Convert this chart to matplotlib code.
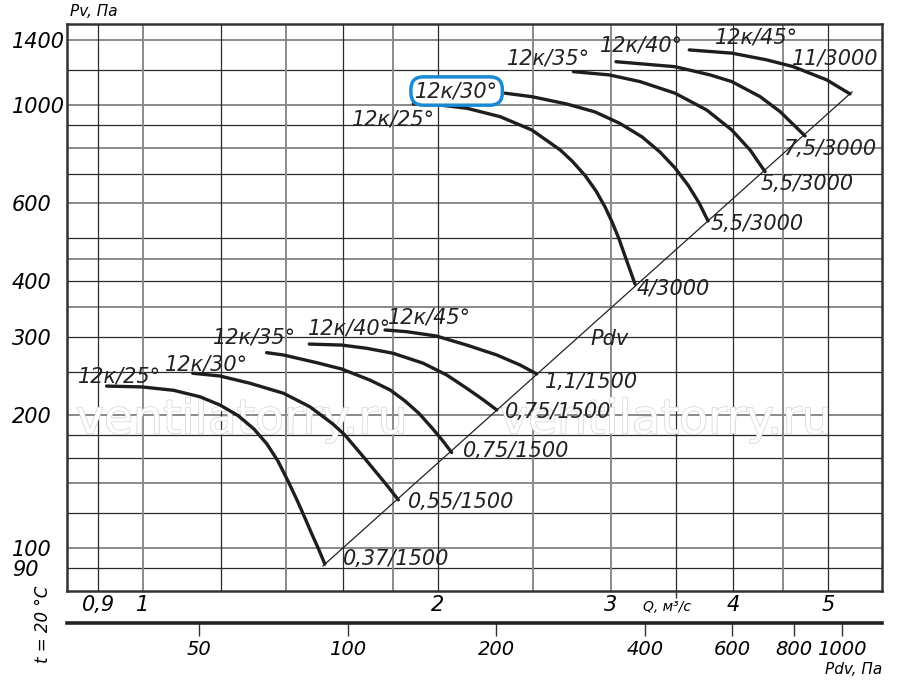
import numpy as np
import matplotlib
matplotlib.use('Agg')
import matplotlib.pyplot as plt
import matplotlib.patheffects as pe
from matplotlib.ticker import NullFormatter

plt.rcParams['font.family'] = 'DejaVu Sans'
plt.rcParams['font.style'] = 'italic'

# --- кривые Pv(Q), 1500 об/мин ---
q25_1500 = [0.918, 0.997, 1.074, 1.143, 1.198, 1.250, 1.298, 1.338, 1.373, 1.406, 1.436,
            1.463, 1.487, 1.512, 1.533]
p25_1500 = [232, 231, 227, 219.5, 210.3, 199.1, 185.6, 171.7, 157.2, 141.6, 128.3,
            116.9, 107.5, 99.0, 92.0]
q30_1500 = [1.124, 1.198, 1.286, 1.391, 1.480, 1.560, 1.607, 1.678, 1.773, 1.822]
p30_1500 = [248, 244.5, 235.4, 223.5, 208.4, 191, 179.9, 160.7, 138.7, 128.4]
q35_1500 = [1.337, 1.391, 1.504, 1.595, 1.704, 1.787, 1.851, 1.913, 1.972, 2.019, 2.065]
p35_1500 = [276, 272.7, 262, 253.5, 239.4, 227.4, 214.7, 201.2, 186.6, 175.4, 164.3]
q40_1500 = [1.478, 1.595, 1.692, 1.800, 1.932, 2.041, 2.140, 2.225, 2.296]
p40_1500 = [288.6, 287.1, 282.3, 275.1, 261.2, 245.8, 229.3, 215.9, 204.9]
q45_1500 = [1.766, 1.858, 1.991, 2.140, 2.296, 2.425, 2.522]
p45_1500 = [310.5, 307.8, 301, 287.1, 272.7, 258.9, 247.1]

# --- 3000 об/мин ---
q25_3000 = [1.887, 1.991, 2.140, 2.314, 2.493, 2.665, 2.740, 2.825, 2.899, 2.961, 3.010,
            3.060, 3.103, 3.140, 3.177]
p25_3000 = [1005, 1002, 983, 941, 878, 791.5, 747.5, 693.3, 639.5, 588.6, 544.4,
            498.4, 456.2, 424.2, 394.4]
q30_3000 = [2.341, 2.493, 2.706, 2.893, 3.067, 3.230, 3.369, 3.490, 3.598, 3.693, 3.772]
p30_3000 = [1063, 1044, 1005, 964.2, 908.2, 847, 783.1, 720.9, 659.7, 601, 547.2]
q35_3000 = [2.749, 2.990, 3.215, 3.490, 3.760, 3.988, 4.164, 4.312]
p35_3000 = [1189, 1169, 1129, 1063, 974, 878, 791, 707]
q40_3000 = [3.038, 3.490, 3.790, 3.988, 4.263, 4.467, 4.738]
p40_3000 = [1252, 1220, 1169, 1129, 1044, 966, 851]
q45_3000 = [3.609, 3.988, 4.329, 4.609, 4.985, 5.265]
p45_3000 = [1331, 1309, 1264, 1220, 1139, 1059]

curves = [(q25_1500, p25_1500), (q30_1500, p30_1500), (q35_1500, p35_1500),
          (q40_1500, p40_1500), (q45_1500, p45_1500),
          (q25_3000, p25_3000), (q30_3000, p30_3000), (q35_3000, p35_3000),
          (q40_3000, p40_3000), (q45_3000, p45_3000)]

# линия Pdv
pdv_q = [1.526, 5.29]
pdv_p = [91.1, 1070]

# подписи (Q, Pv, текст)
labels = [
    (0.858, 235.8, '12к/25°'), (1.053, 252.2, '12к/30°'), (1.179, 290.2, '12к/35°'),
    (1.473, 304.1, '12к/40°'), (1.778, 322, '12к/45°'),
    (1.600, 91.5, '0,37/1500'), (1.864, 123.1, '0,55/1500'), (2.122, 160.5, '0,75/1500'),
    (2.341, 196.6, '0,75/1500'), (2.572, 229.7, '1,1/1500'), (2.858, 287.2, 'Pdv'),
    (1.634, 896.8, '12к/25°'), (2.352, 1231, '12к/35°'),
    (2.927, 1317, '12к/40°'), (3.834, 1373, '12к/45°'),
    (4.595, 1231, '11/3000'), (4.499, 771, '7,5/3000'), (4.263, 642.8, '5,5/3000'),
    (3.790, 522, '5,5/3000'), (3.192, 372.5, '4/3000'),
]
boxed_label = (1.895, 1042, '12к/30°')

# сетка
hgrid = [90, 100, 120, 140, 160, 180, 200, 250, 300, 350, 400, 450, 500, 600, 700, 800, 900, 1000, 1200, 1400]
hdark = [1, 0, 1, 0, 1, 1, 0, 1, 1, 0, 1, 0, 1, 0, 1, 0, 1, 0, 1, 0]
vgrid = [0.9, 1, 1.2, 1.4, 1.6, 1.8, 2, 2.5, 3, 3.5, 4, 4.5, 5]
vdark = [1, 0, 1, 0, 1, 0, 1, 0, 0, 1, 1, 0, 1]

y_ticks = [90, 100, 200, 300, 400, 600, 1000, 1400]
y_ticklabels = ['90', '100', '200', '300', '400', '600', '1000', '1400']
q_ticks = [0.9, 1, 2, 3, 4, 5]
q_ticklabels = ['0,9', '1', '2', '3', '4', '5']
pdv_ticks = [50, 100, 200, 400, 600, 800, 1000]
pdv_ticklabels = ['50', '100', '200', '400', '600', '800', '1000']

fig = plt.figure(figsize=(9, 6.81), dpi=100)
ax = fig.add_axes([67/900, 90/681, 815/900, 567/681])
ax.set_xscale('log')
ax.set_yscale('log')
ax.set_xlim(0.8365, 5.676)
ax.set_ylim(79.98, 1523)

for v, d in zip(hgrid, hdark):
    if d:
        ax.axhline(v, color='#2a2a2a', lw=0.9, zorder=1)
    else:
        ax.axhline(v, color='#8a8a8a', lw=1.4, zorder=1)
for v, d in zip(vgrid, vdark):
    if d:
        ax.axvline(v, color='#2a2a2a', lw=0.9, zorder=1)
    else:
        ax.axvline(v, color='#8a8a8a', lw=1.4, zorder=1)

# водяной знак
for xf in [0.2147, 0.735]:
    ax.text(xf, 0.30, 'ventilatorry.ru', transform=ax.transAxes, fontsize=34,
            fontstyle='normal', color='white', ha='center', va='center', zorder=2,
            path_effects=[pe.withStroke(linewidth=1.0, foreground='#d2d2d2')])

ax.plot(pdv_q, pdv_p, color='#222222', lw=0.9, zorder=3)
for q, p in curves:
    ax.plot(q, p, color='#1e1e1e', lw=2.4, zorder=4,
            solid_capstyle='round', solid_joinstyle='round')

for q, p, s in labels:
    ax.text(q, p, s, fontsize=15, color='#222222', ha='left', va='baseline', zorder=5)
q, p, s = boxed_label
ax.text(q, p, s, fontsize=15, color='#222222', ha='left', va='baseline', zorder=5,
        bbox=dict(boxstyle='round,pad=0.2,rounding_size=0.6', fc='white',
                  ec='#1a8ad4', lw=2.5))

for sp in ax.spines.values():
    sp.set_linewidth(1.8)
    sp.set_color('#333333')

ax.set_yticks(y_ticks, y_ticklabels)
ax.set_yticks([], minor=True)
ax.tick_params(axis='y', which='both', length=0, pad=39.6, labelsize=15)
for t in ax.get_yticklabels():
    t.set_horizontalalignment('left')

ax.set_xticks(q_ticks, q_ticklabels)
ax.set_xticks([3.5], minor=True)
ax.xaxis.set_minor_formatter(NullFormatter())
ax.tick_params(axis='x', which='major', length=0, pad=3, labelsize=15)
ax.tick_params(axis='x', which='minor', length=5, width=1, color='#333333')

# шкала Pdv
ax2 = fig.add_axes([67/900, 58/681, 815/900, 0.001])
ax2.set_xscale('log')
ax2.set_xlim(27.02, 1206)
ax2.patch.set_visible(False)
ax2.set_yticks([])
for k in ['top', 'left', 'right']:
    ax2.spines[k].set_visible(False)
ax2.spines['bottom'].set_linewidth(2.6)
ax2.spines['bottom'].set_color('#222222')
ax2.set_xticks(pdv_ticks, pdv_ticklabels)
ax2.set_xticks([], minor=True)
ax2.tick_params(axis='x', direction='out', length=9, width=1, pad=3, labelsize=14, color='#333333')

fig.text(70/900, (681-12)/681, 'Pv, Па', fontsize=11, va='center', ha='left')
fig.text(643/900, (681-607)/681, 'Q, м³/с', fontsize=10, va='center', ha='left')
fig.text(825/900, (681-670)/681, 'Pdv, Па', fontsize=11, va='center', ha='left')
fig.text(43/900, (681-624)/681, 't = 20 °C', fontsize=12, rotation=90, va='center', ha='center')

fig.savefig('out.png', dpi=100)
